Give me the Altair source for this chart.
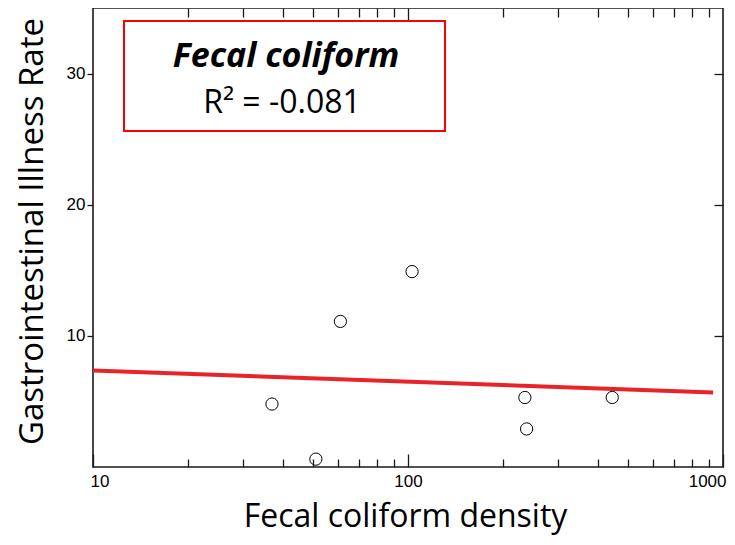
import altair as alt
import pandas as pd

# ---- data ----
fc_density = [37, 51, 61, 103, 235, 238, 445]
gi_rate = [4.8, 0.6, 11.1, 14.9, 5.3, 2.9, 5.3]
fit_x = [10, 930]
fit_y = [7.36, 5.69]
minor_x_ticks = [20, 30, 40, 50, 60, 70, 80, 90, 200, 300, 400, 500, 600, 700, 800, 900]
major_x_ticks = [10, 100, 1000]
y_ticks = [10, 20, 30]
x_domain = [10, 1000]
y_domain = [0, 35]
box_title = "Fecal coliform"
box_stat = "R² = -0.081"
x_title = "Fecal coliform density"
y_title = "Gastrointestinal Illness Rate"

pts = pd.DataFrame({"x": fc_density, "y": gi_rate})
fit = pd.DataFrame({"x": fit_x, "y": fit_y})
ann1 = pd.DataFrame({"t": [box_title]})
ann2 = pd.DataFrame({"t": [box_stat]})

xs = alt.Scale(type="log", domain=x_domain, nice=False)
ys = alt.Scale(domain=y_domain, nice=False, zero=False)

W, H = 630, 459
FONT = "Open Sans"

box = alt.Chart(ann1).mark_rect(fill="white", stroke="#ff0000", strokeWidth=2).encode(
    x=alt.value(31), x2=alt.value(352), y=alt.value(13), y2=alt.value(123)
)
t1 = alt.Chart(ann1).mark_text(
    font=FONT, fontSize=34, fontWeight="bold", fontStyle="italic",
    align="center", baseline="alphabetic", color="black"
).encode(x=alt.value(193), y=alt.value(59), text="t:N")
t2 = alt.Chart(ann2).mark_text(
    font=FONT, fontSize=32, align="center", baseline="alphabetic", color="black"
).encode(x=alt.value(189), y=alt.value(105), text="t:N")

line = alt.Chart(fit).mark_line(color="#e8232a", strokeWidth=4).encode(
    x=alt.X("x:Q", scale=xs, axis=alt.Axis(
        orient="bottom", values=major_x_ticks, offset=-13, tickSize=13, format="d",
        labelFlush=True, labelFlushOffset=3, labelPadding=6, domain=False, grid=False,
        title=x_title, titleX=312, titleY=72, titleBaseline="alphabetic",
        titleFontSize=32, titleAlign="center")),
    y=alt.Y("y:Q", scale=ys, axis=alt.Axis(
        orient="right", values=y_ticks, offset=-9, tickSize=9,
        labels=False, domain=False, grid=False, title=None)),
)

top_minor = alt.Chart(fit).mark_point(opacity=0).encode(
    x=alt.X("x:Q", scale=xs, axis=alt.Axis(
        orient="top", values=minor_x_ticks, offset=-9, tickSize=9,
        labels=False, domain=False, grid=False, title=None)),
    y=alt.Y("y:Q", scale=ys, axis=None),
)
top_major = alt.Chart(fit).mark_point(opacity=0).encode(
    x=alt.X("x:Q", scale=xs, axis=alt.Axis(
        orient="top", values=[100], offset=-13, tickSize=13,
        labels=False, domain=False, grid=False, title=None)),
    y=alt.Y("y:Q", scale=ys, axis=None),
)

points = alt.Chart(pts).mark_point(
    shape="circle", size=150, filled=False, color="black", strokeWidth=1, opacity=1
).encode(
    x=alt.X("x:Q", scale=xs, axis=alt.Axis(
        orient="bottom", values=minor_x_ticks, offset=-8, tickSize=8,
        labels=False, domain=False, grid=False, title=None)),
    y=alt.Y("y:Q", scale=ys, axis=alt.Axis(
        orient="left", values=y_ticks, tickSize=6, labelPadding=2,
        domain=False, grid=False, title=y_title, titleX=-51, titleY=223,
        titleBaseline="alphabetic", titleAlign="center", titleFontSize=33)),
)

chart = alt.layer(box, t1, t2, line, top_minor, top_major, points).resolve_scale(
    x="shared", y="shared"
).resolve_axis(
    x="independent", y="independent"
).properties(
    width=W, height=H, autosize="none",
    padding={"left": 85, "top": 0, "right": 4, "bottom": 69},
    background="white",
).configure_view(
    stroke="#1a1a1a", strokeWidth=1.6
).configure_axis(
    tickColor="#1a1a1a", tickWidth=1.3, labelColor="black",
    labelFont="Liberation Sans", labelFontSize=17,
    titleFont=FONT, titleFontWeight="normal", titleColor="black",
)

chart.save("out.html", embed_options={"renderer": "svg", "actions": False})
